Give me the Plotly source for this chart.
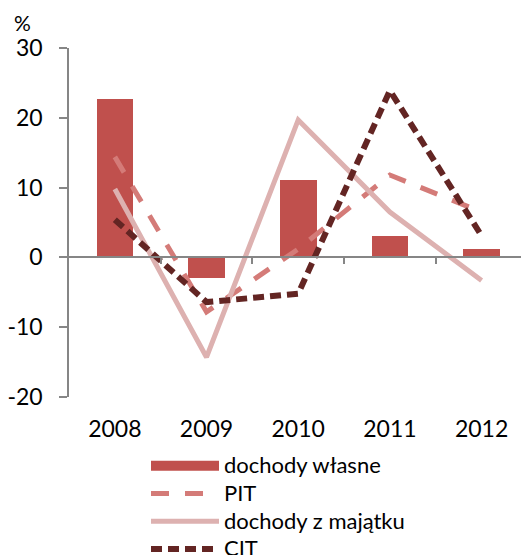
import plotly.graph_objects as go

# Annual growth rates, %
years = ["2008", "2009", "2010", "2011", "2012"]
dochody_wlasne = [22.7, -2.9, 11.1, 3.0, 1.2]
pit = [14.4, -7.8, 1.2, 11.8, 6.5]
dochody_z_majatku = [9.8, -14.3, 19.7, 6.5, -3.3]
cit = [5.4, -6.4, -5.2, 23.9, 3.1]
y_ticks = [-20, -10, 0, 10, 20, 30]
y_ticktext = ["-20", "-10", "0", "10", "20", "30"]

xpos = list(range(len(years)))
FONT = "Lato"
BAR_COLOR = "#C0504D"


def legend_label(text):
    # legend rows are spaced by the legend font; labels use a larger size
    return f'<span style="font-size:22px">{text}</span>'


fig = go.Figure()
fig.add_trace(go.Bar(
    x=xpos, y=dochody_wlasne, name="dochody własne", showlegend=False,
    legendgroup="wl", marker=dict(color=BAR_COLOR, line=dict(width=0)), width=0.4,
))
# wide rectangular key for the bar series
fig.add_trace(go.Scatter(
    x=[None], y=[None], name=legend_label("dochody własne"), legendgroup="wl",
    mode="lines", line=dict(color=BAR_COLOR, width=12), hoverinfo="skip",
))
fig.add_trace(go.Scatter(
    x=xpos, y=pit, name=legend_label("PIT"), mode="lines",
    line=dict(color="#D47B78", width=5, dash="18px,16px"),
))
fig.add_trace(go.Scatter(
    x=xpos, y=dochody_z_majatku, name=legend_label("dochody z majątku"), mode="lines",
    line=dict(color="#DDB1B0", width=5),
))
fig.add_trace(go.Scatter(
    x=xpos, y=cit, name=legend_label("CIT"), mode="lines",
    line=dict(color="#632523", width=6, dash="11px,6px"),
))

xr = [-0.5, 4.43]
fig.update_layout(
    width=521, height=555,
    margin=dict(l=69, r=0, t=48, b=158, autoexpand=False),
    paper_bgcolor="white", plot_bgcolor="white",
    font=dict(family=FONT, size=23, color="black"),
    showlegend=True,
    bargap=0,
    xaxis=dict(
        range=xr, tickmode="array", tickvals=xpos, ticktext=years,
        showline=False, ticks="", showgrid=False, zeroline=False,
        ticklabelstandoff=16, fixedrange=True,
    ),
    xaxis2=dict(
        range=xr, overlaying="x", anchor="free", position=0.4,
        tickmode="array", tickvals=[0.5, 1.5, 2.5, 3.5],
        ticks="outside", ticklen=6, tickwidth=1.5, tickcolor="#868686",
        showline=True, linecolor="#868686", linewidth=1.5,
        showticklabels=False, showgrid=False, zeroline=False,
    ),
    yaxis=dict(
        range=[-20, 30], tickmode="array", tickvals=y_ticks, ticktext=y_ticktext,
        showline=True, linecolor="#868686", linewidth=1.5,
        ticks="outside", ticklen=8, tickwidth=1.5, tickcolor="#868686",
        showgrid=False, zeroline=False, ticklabelstandoff=12,
    ),
    legend=dict(
        x=(146 - 69) / 452, xanchor="left", y=(397 - 447) / 349, yanchor="top",
        font=dict(family=FONT, size=19), itemwidth=68,
        tracegroupgap=0, bgcolor="rgba(0,0,0,0)", borderwidth=0,
    ),
    annotations=[dict(
        text="%", xref="paper", yref="paper", x=-57 / 452, y=1.0,
        xanchor="left", yanchor="bottom", yshift=11, showarrow=False,
        font=dict(family=FONT, size=21),
    )],
)
fig.add_trace(go.Scatter(x=[None], y=[None], xaxis="x2", showlegend=False, hoverinfo="skip"))

fig.write_html("out.html")
